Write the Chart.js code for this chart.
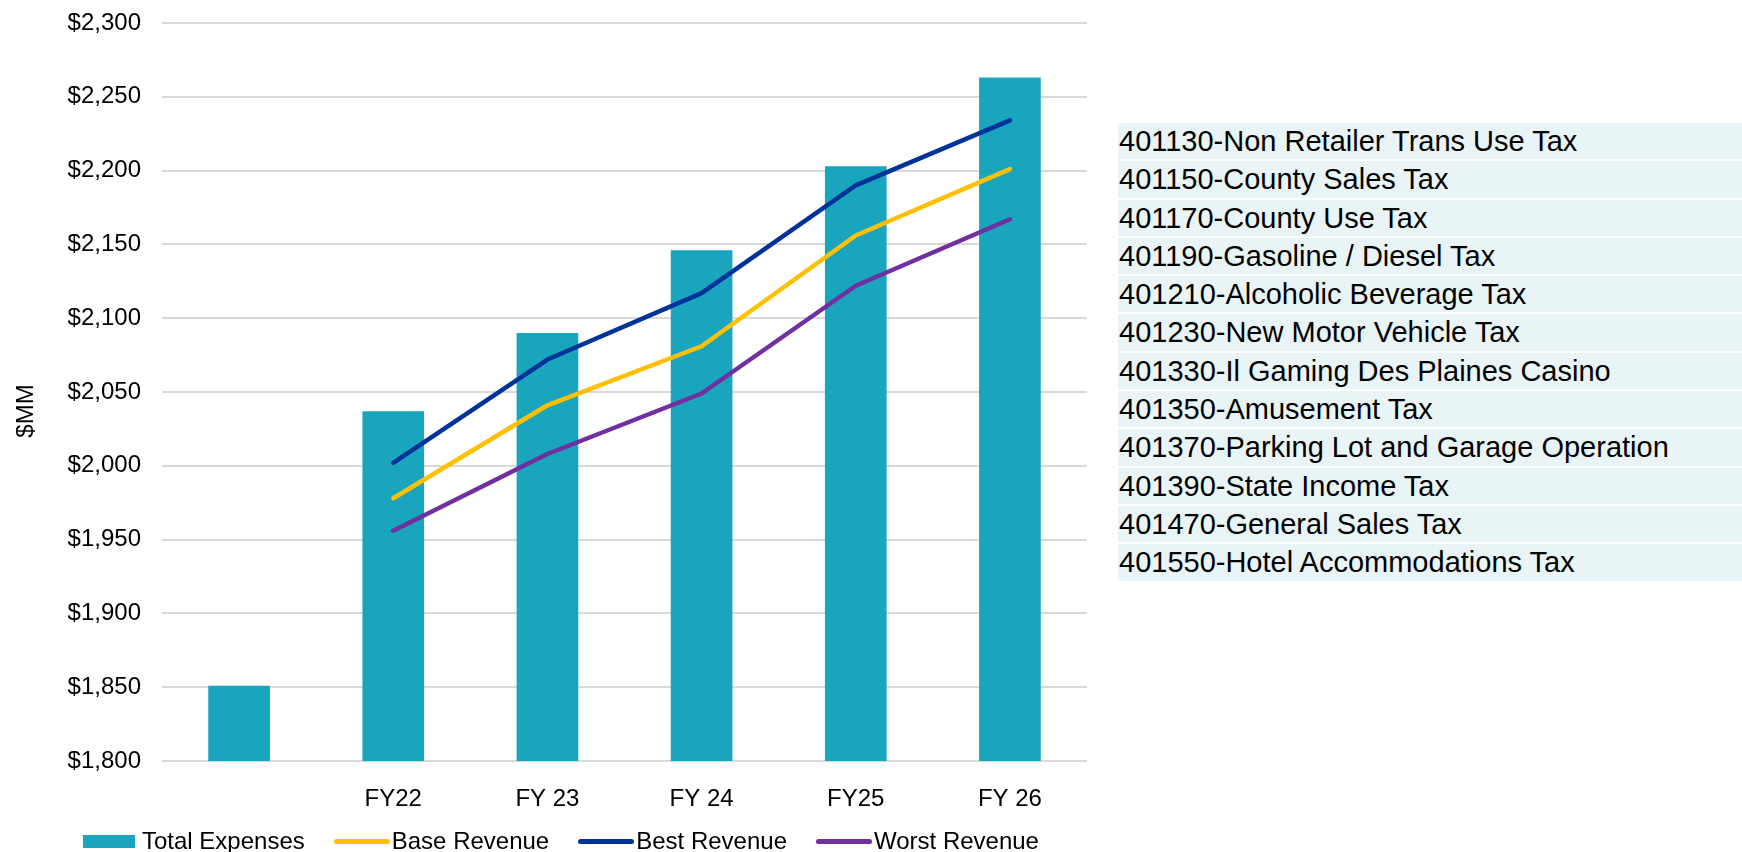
<!DOCTYPE html>
<html>
<head>
<meta charset="utf-8">
<title>Expenses vs Revenue Scenarios</title>
<script src="https://cdn.jsdelivr.net/npm/chart.js@4"></script>
<style>
    html, body {
        margin: 0;
        padding: 0;
        background: #fff;
        font-family: 'Liberation Sans', Arial, sans-serif;
        overflow: hidden;
    }
    .page {
        position: relative;
        width: 1742px;
        height: 852px;
    }
    .chart-box {
        position: absolute;
        left: 0;
        top: 0;
        width: 1100px;
        height: 852px;
    }
    .legend {
        position: absolute;
        left: 83px;
        top: 827px;
        display: flex;
        align-items: center;
        font-size: 24px;
        line-height: 28px;
        color: #000;
        white-space: nowrap;
    }
    .legend-item {
        display: flex;
        align-items: center;
        margin-right: 29px;
    }
    .legend-box {
        width: 52px;
        height: 13px;
        margin-right: 7px;
    }
    .legend-line {
        width: 56px;
        height: 5px;
        border-radius: 3px;
        margin-right: 2px;
    }
    .tax-list {
        position: absolute;
        left: 1118px;
        top: 123px;
        width: 624px;
    }
    .tax-row {
        height: 36.3px;
        line-height: 36.3px;
        margin-bottom: 2px;
        background: #e8f4f6;
        font-size: 29px;
        color: #000;
        padding-left: 1px;
        white-space: nowrap;
    }
</style>
</head>
<body>
<div class="page">
    <div class="chart-box"><canvas id="forecast-chart"></canvas></div>
    <div class="legend" id="legend"></div>
    <div class="tax-list" id="tax-list"></div>
</div>

<script>
// Fiscal years (first slot is the unlabeled base year)
const years = ['', 'FY22', 'FY 23', 'FY 24', 'FY25', 'FY 26'];

// $MM
const totalExpenses = [1851, 2037, 2090, 2146, 2203, 2263];
const baseRevenue = [null, 1978, 2041, 2081, 2156, 2201];
const bestRevenue = [null, 2002, 2072, 2117, 2190, 2234];
const worstRevenue = [null, 1956, 2008, 2049, 2122, 2167];

const yTicks = { min: 1800, max: 2300, step: 50 };

const taxAccounts = [
    '401130-Non Retailer Trans Use Tax',
    '401150-County Sales Tax',
    '401170-County Use Tax',
    '401190-Gasoline / Diesel Tax',
    '401210-Alcoholic Beverage Tax',
    '401230-New Motor Vehicle Tax',
    '401330-Il Gaming Des Plaines Casino',
    '401350-Amusement Tax',
    '401370-Parking Lot and Garage Operation',
    '401390-State Income Tax',
    '401470-General Sales Tax',
    '401550-Hotel Accommodations Tax'
];

const colors = {
    expenses: '#1aa5be',
    base: '#ffc000',
    best: '#00339a',
    worst: '#7030a0',
    grid: '#d9d9d9'
};

const FONT = "'Liberation Sans', Arial, sans-serif";

// Draws the rotated "$MM" axis caption
const axisCaption = {
    id: 'axisCaption',
    afterDraw(chart) {
        const ctx = chart.ctx;
        const area = chart.chartArea;
        ctx.save();
        ctx.translate(26, (area.top + area.bottom) / 2 + 19);
        ctx.rotate(-Math.PI / 2);
        ctx.font = '24px ' + FONT;
        ctx.fillStyle = '#000';
        ctx.textAlign = 'center';
        ctx.textBaseline = 'middle';
        ctx.fillText('$MM', 0, 0);
        ctx.restore();
    }
};

function lineDataset(label, data, color) {
    return {
        type: 'line',
        label: label,
        data: data,
        borderColor: color,
        backgroundColor: color,
        borderWidth: 4.5,
        borderCapStyle: 'round',
        borderJoinStyle: 'round',
        pointRadius: 0,
        tension: 0,
        order: 0
    };
}

function createChart() {
    const ctx = document.getElementById('forecast-chart');

    return new Chart(ctx, {
        type: 'bar',
        data: {
            labels: years,
            datasets: [
                {
                    type: 'bar',
                    label: 'Total Expenses',
                    data: totalExpenses,
                    backgroundColor: colors.expenses,
                    categoryPercentage: 1,
                    barPercentage: 0.4,
                    order: 1
                },
                lineDataset('Base Revenue', baseRevenue, colors.base),
                lineDataset('Best Revenue', bestRevenue, colors.best),
                lineDataset('Worst Revenue', worstRevenue, colors.worst)
            ]
        },
        options: {
            responsive: true,
            maintainAspectRatio: false,
            animation: false,
            layout: {
                padding: { top: 23, right: 13, left: 0, bottom: 0 }
            },
            plugins: {
                legend: { display: false },
                tooltip: { enabled: false }
            },
            scales: {
                x: {
                    grid: { display: false },
                    border: { display: false },
                    ticks: {
                        color: '#000',
                        padding: 16,
                        font: { family: FONT, size: 24 }
                    },
                    afterFit: function (axis) {
                        axis.height = 91;
                    }
                },
                y: {
                    min: yTicks.min,
                    max: yTicks.max,
                    grid: {
                        color: colors.grid,
                        lineWidth: 2,
                        drawTicks: false
                    },
                    border: { display: false },
                    ticks: {
                        stepSize: yTicks.step,
                        color: '#000',
                        padding: 21,
                        font: { family: FONT, size: 24 },
                        callback: function (value) {
                            return '$' + value.toLocaleString('en-US');
                        }
                    },
                    afterFit: function (axis) {
                        axis.width = 162;
                        // top label fits inside the layout padding
                        axis.paddingTop = 0;
                        axis.paddingBottom = 0;
                    }
                }
            }
        },
        plugins: [axisCaption]
    });
}

// Legend built from the chart's datasets
function buildLegend(chart) {
    const container = document.getElementById('legend');
    let html = '';
    chart.data.datasets.forEach(ds => {
        const swatch = ds.type === 'bar'
            ? `<div class="legend-box" style="background:${ds.backgroundColor}"></div>`
            : `<div class="legend-line" style="background:${ds.borderColor}"></div>`;
        html += `<div class="legend-item">${swatch}<span>${ds.label}</span></div>`;
    });
    container.innerHTML = html;
}

function buildTaxList() {
    const container = document.getElementById('tax-list');
    container.innerHTML = taxAccounts
        .map(name => `<div class="tax-row">${name}</div>`)
        .join('');
}

document.addEventListener('DOMContentLoaded', function () {
    const chart = createChart();
    buildLegend(chart);
    buildTaxList();
});
</script>
</body>
</html>
